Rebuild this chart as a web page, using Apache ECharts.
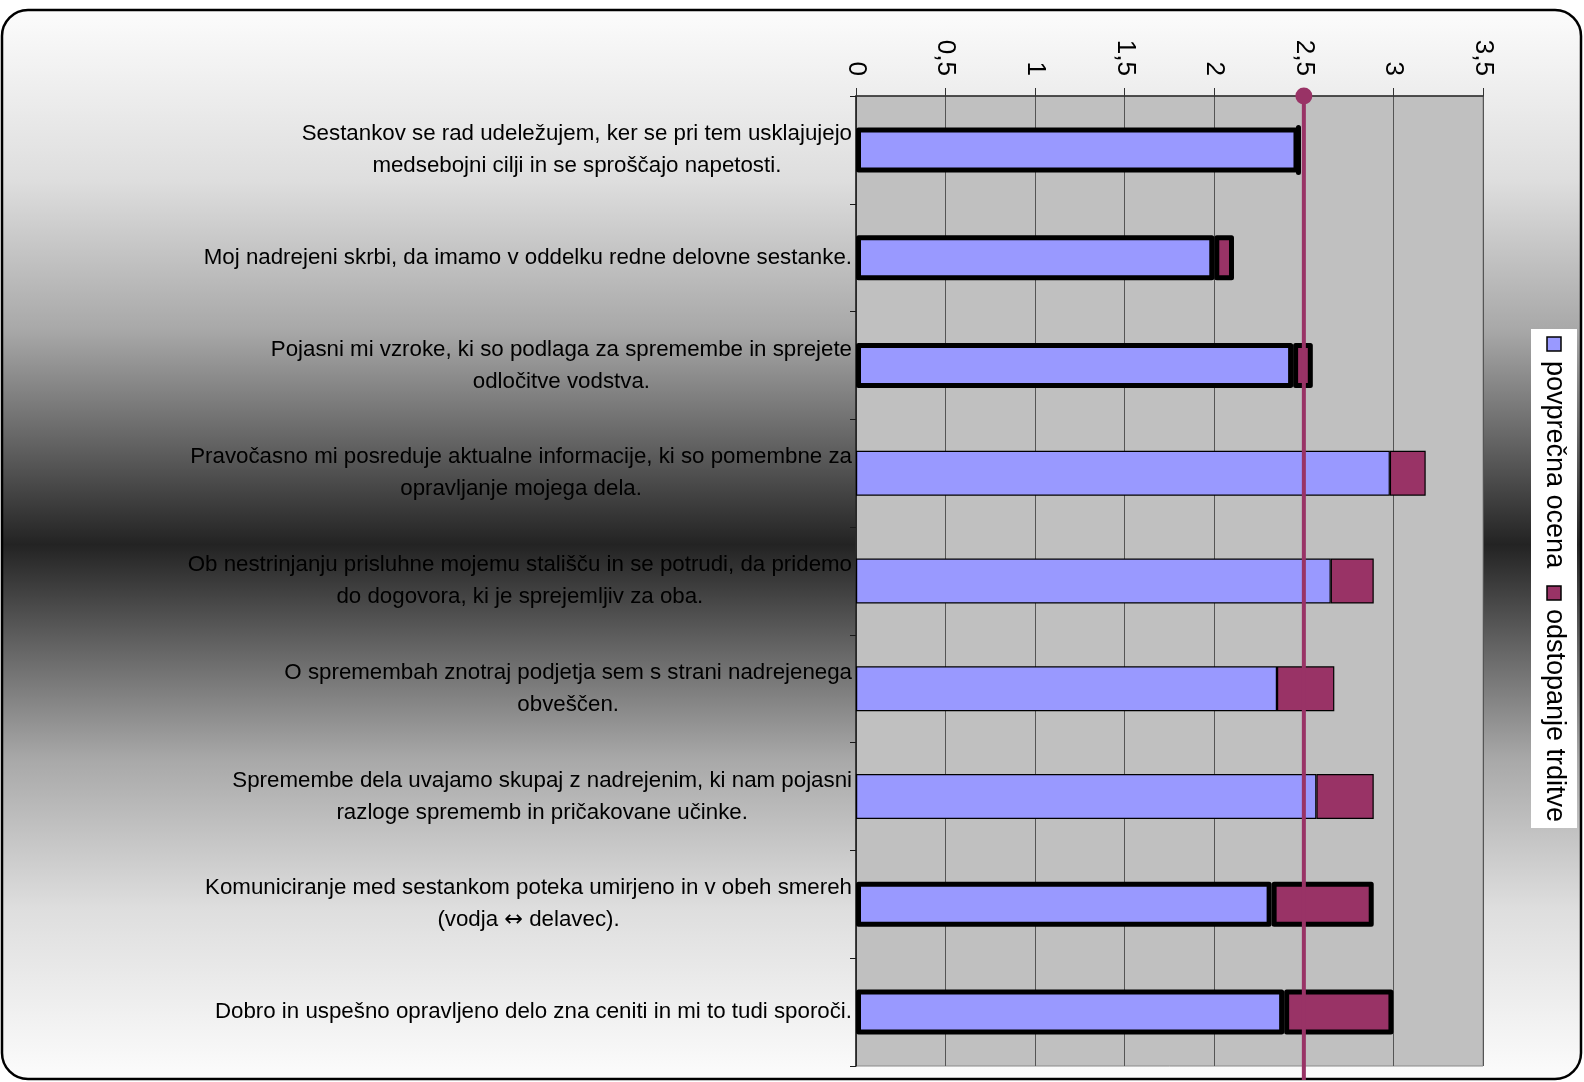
<!DOCTYPE html>
<html>
<head>
<meta charset="utf-8">
<title>Komunikacija z nadrejenim</title>
<script src="https://cdn.jsdelivr.net/npm/echarts@6/dist/echarts.min.js"></script>
<style>
  html, body { margin: 0; padding: 0; background: #ffffff; }
  #chart { width: 1584px; height: 1082px; }
</style>
</head>
<body>
<div id="chart"></div>
<script>
// Survey statements (top to bottom), wrapped the way they are printed
const categories = [
  'Sestankov se rad udeležujem, ker se pri tem usklajujejo\nmedsebojni cilji in se sproščajo napetosti.',
  'Moj nadrejeni skrbi, da imamo v oddelku redne delovne sestanke.',
  'Pojasni mi vzroke, ki so podlaga za spremembe in sprejete\nodločitve vodstva.',
  'Pravočasno mi posreduje aktualne informacije, ki so pomembne za\nopravljanje mojega dela.',
  'Ob nestrinjanju prisluhne mojemu stališču in se potrudi, da pridemo\ndo dogovora, ki je sprejemljiv za oba.',
  'O spremembah znotraj podjetja sem s strani nadrejenega\nobveščen.',
  'Spremembe dela uvajamo skupaj z nadrejenim, ki nam pojasni\nrazloge sprememb in pričakovane učinke.',
  'Komuniciranje med sestankom poteka umirjeno in v obeh smereh\n(vodja ↔ delavec).',
  'Dobro in uspešno opravljeno delo zna ceniti in mi to tudi sporoči.'
];

// Average score per statement
const meanScores = [2.47, 2.00, 2.44, 2.98, 2.65, 2.35, 2.57, 2.32, 2.39];

// Deviation stacked on top of the average
const deviations = [0, 0.11, 0.11, 0.20, 0.24, 0.32, 0.32, 0.57, 0.61];

// Reference level drawn across the whole chart
const threshold = 2.5;

// Value axis range and tick step
const axisMin = 0;
const axisMax = 3.5;
const axisStep = 0.5;

const seriesNames = ['povprečna ocena', 'odstopanje trditve'];

// Statements whose bars get the heavy outline
const heavyOutline = new Set([0, 1, 2, 7, 8]);

const FONT = "'Liberation Sans', Arial, Helvetica, sans-serif";
const BLUE = '#9999ff';
const PLUM = '#993366';

function styledData(values, color) {
  return values.map((v, i) => {
    const heavy = heavyOutline.has(i);
    return {
      value: v,
      itemStyle: {
        color: color,
        borderColor: '#000000',
        borderWidth: heavy ? 5 : 1.2,
        borderJoin: heavy ? 'round' : 'miter'
      }
    };
  });
}

// Each printed line becomes a centred rich-text token; arrows use a font with a full-size glyph
function categoryLabel(value) {
  return value.split('\n')
    .map(line => '{c|' + line.replace('↔', '}{a|↔}{c|') + '}')
    .join('\n');
}

const chart = echarts.init(document.getElementById('chart'), null, { renderer: 'canvas' });

const backgroundGradient = {
  type: 'linear', x: 0, y: 0, x2: 0, y2: 1,
  colorStops: [
    { offset: 0.00, color: '#fcfcfc' },
    { offset: 0.16, color: '#dedede' },
    { offset: 0.30, color: '#a8a8a8' },
    { offset: 0.41, color: '#606060' },
    { offset: 0.50, color: '#232323' },
    { offset: 0.59, color: '#606060' },
    { offset: 0.70, color: '#a8a8a8' },
    { offset: 0.84, color: '#dedede' },
    { offset: 1.00, color: '#fcfcfc' }
  ]
};

// Rotated legend on the right edge
const legendGroup = {
  type: 'group',
  x: 1554,
  y: 329,
  rotation: -Math.PI / 2,
  z: 20,
  children: [
    { type: 'rect', shape: { x: 0, y: -23, width: 499, height: 46 },
      style: { fill: '#ffffff', stroke: null } },
    { type: 'rect', shape: { x: 8, y: -7, width: 14, height: 14 },
      style: { fill: BLUE, stroke: '#000000', lineWidth: 1.5 } },
    { type: 'text', x: 32, y: 0,
      style: { text: seriesNames[0], fill: '#000000', font: '27px ' + FONT,
               align: 'left', verticalAlign: 'middle' } },
    { type: 'rect', shape: { x: 257, y: -7, width: 14, height: 14 },
      style: { fill: PLUM, stroke: '#000000', lineWidth: 1.5 } },
    { type: 'text', x: 280, y: 0,
      style: { text: seriesNames[1], fill: '#000000', font: '27px ' + FONT,
               align: 'left', verticalAlign: 'middle' } }
  ]
};

const option = {
  animation: false,
  backgroundColor: '#ffffff',
  textStyle: { fontFamily: FONT },
  graphic: [
    {
      type: 'rect',
      z: -10,
      shape: { x: 2, y: 10, width: 1579, height: 1069, r: 26 },
      style: { fill: backgroundGradient, stroke: '#000000', lineWidth: 2.5 }
    },
    legendGroup
  ],
  grid: [
    {
      left: 856, right: 101, top: 96, bottom: 16,
      show: true,
      backgroundColor: '#c0c0c0',
      borderColor: '#8a8a8a',
      borderWidth: 1
    },
    {
      left: 856, right: 101, top: 96, bottom: 2,
      show: false
    }
  ],
  xAxis: [
    {
      type: 'value',
      gridIndex: 0,
      position: 'top',
      min: axisMin,
      max: axisMax,
      interval: axisStep,
      axisLine: { show: true, lineStyle: { color: '#2a2a2a', width: 1.5 } },
      axisTick: { show: true, inside: false, length: 8, lineStyle: { color: '#333333', width: 1 } },
      splitLine: { show: true, lineStyle: { color: '#555555', width: 1 } },
      axisLabel: {
        show: true,
        rotate: 90,
        margin: 20,
        color: '#000000',
        fontSize: 26,
        fontFamily: FONT,
        formatter: v => String(v).replace('.', ',')
      }
    },
    {
      type: 'value',
      gridIndex: 1,
      min: axisMin,
      max: axisMax,
      show: false
    }
  ],
  yAxis: [
    {
      type: 'category',
      gridIndex: 0,
      data: categories,
      inverse: true,
      axisLine: { show: true, lineStyle: { color: '#1a1a1a', width: 1.5 } },
      axisTick: { show: true, inside: false, length: 6, lineStyle: { color: '#1a1a1a' } },
      splitLine: { show: false },
      axisLabel: {
        show: true,
        margin: 4,
        interval: 0,
        formatter: categoryLabel,
        rich: {
          c: {
            align: 'center',
            fontSize: 22.3,
            lineHeight: 32,
            color: '#000000',
            fontFamily: FONT
          },
          a: {
            align: 'center',
            fontSize: 22.3,
            lineHeight: 32,
            color: '#000000',
            fontFamily: "'DejaVu Sans', sans-serif"
          }
        }
      }
    },
    {
      type: 'value',
      gridIndex: 1,
      min: 0,
      max: 1,
      show: false
    }
  ],
  series: [
    {
      name: seriesNames[0],
      type: 'bar',
      stack: 'score',
      xAxisIndex: 0,
      yAxisIndex: 0,
      barWidth: 45,
      data: styledData(meanScores, BLUE),
      z: 2
    },
    {
      name: seriesNames[1],
      type: 'bar',
      stack: 'score',
      xAxisIndex: 0,
      yAxisIndex: 0,
      barWidth: 45,
      data: styledData(deviations, PLUM),
      z: 2
    },
    {
      name: 'threshold',
      type: 'line',
      xAxisIndex: 1,
      yAxisIndex: 1,
      silent: true,
      z: 10,
      symbol: 'circle',
      symbolSize: 17,
      showSymbol: true,
      itemStyle: { color: PLUM },
      lineStyle: { color: PLUM, width: 4 },
      data: [
        { value: [threshold, 1], symbol: 'circle', symbolSize: 17 },
        { value: [threshold, 0], symbol: 'none' }
      ]
    }
  ]
};

chart.setOption(option);
</script>
</body>
</html>
